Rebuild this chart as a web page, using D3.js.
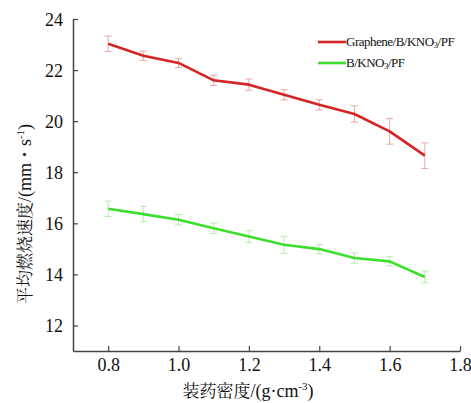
<!DOCTYPE html>
<html>
<head>
<meta charset="utf-8">
<script src="https://cdn.jsdelivr.net/npm/d3@7"></script>
<style>
  body { margin: 0; background: #fff; }
</style>
</head>
<body>
<div id="chart"></div>
<script>
// data
var density = [0.8, 0.9, 1.0, 1.1, 1.2, 1.3, 1.4, 1.5, 1.6, 1.7]
var grapheneRate = [23.03, 22.56, 22.28, 21.60, 21.43, 21.03, 20.64, 20.28, 19.60, 18.65]
var grapheneErr = [0.30, 0.18, 0.18, 0.20, 0.22, 0.20, 0.20, 0.32, 0.50, 0.50]
var plainRate = [16.57, 16.36, 16.14, 15.81, 15.48, 15.16, 14.99, 14.64, 14.51, 13.90]
var plainErr = [0.30, 0.30, 0.20, 0.20, 0.23, 0.33, 0.18, 0.20, 0.18, 0.23]
var xTicks = [0.8, 1.0, 1.2, 1.4, 1.6, 1.8]
var yTicks = [12, 14, 16, 18, 20, 22, 24]

var W = 471, H = 403
var margin = {top: 19, right: 11, bottom: 52, left: 73}
var serif = "'Liberation Serif', 'Times New Roman', Times, serif"
var cjk = "'Noto Serif CJK SC', 'Noto Sans CJK SC', serif"

var svg = d3.select("#chart").append("svg")
  .attr("width", W).attr("height", H)

var x = d3.scaleLinear().domain([0.7, 1.8]).range([margin.left, W - margin.right])
var y = d3.scaleLinear().domain([11, 24]).range([H - margin.bottom, margin.top])

let series = [
  {name: "Graphene/B/KNO", values: grapheneRate, err: grapheneErr, color: "#d42424", errColor: "#e8a8a8"},
  {name: "B/KNO", values: plainRate, err: plainErr, color: "#3ede2c", errColor: "#b4ecac"}
]

// axes, ticks pointing inward
var xAxis = svg.append("g")
  .attr("transform", "translate(0," + (H - margin.bottom) + ")")
  .call(d3.axisBottom(x).tickValues(xTicks).tickSize(-5).tickPadding(7).tickFormat(d3.format(".1f")).tickSizeOuter(0))
var yAxis = svg.append("g")
  .attr("transform", "translate(" + margin.left + ",0)")
  .call(d3.axisLeft(y).tickValues(yTicks).tickSize(-5).tickPadding(10).tickSizeOuter(0))

for (let a of [xAxis, yAxis]) {
  a.attr("font-family", null)
  a.selectAll("path.domain").attr("stroke", "#444").attr("stroke-width", 1.5)
  a.selectAll(".tick line").attr("stroke", "#444").attr("stroke-width", 1.2)
  a.selectAll("text").attr("fill", "#111")
    .style("font-family", serif).style("font-size", "18px")
}
yAxis.selectAll("text").attr("dy", "0.35em")

// error bars + lines
for (let s of series) {
  let g = svg.append("g")
  density.forEach(function(d, i) {
    let cx = x(d), y0 = y(s.values[i] - s.err[i]), y1 = y(s.values[i] + s.err[i])
    g.append("line").attr("x1", cx).attr("x2", cx).attr("y1", y0).attr("y2", y1)
      .attr("stroke", s.errColor).attr("stroke-width", 1)
    g.append("line").attr("x1", cx - 3.5).attr("x2", cx + 3.5).attr("y1", y0).attr("y2", y0)
      .attr("stroke", s.errColor).attr("stroke-width", 1)
    g.append("line").attr("x1", cx - 3.5).attr("x2", cx + 3.5).attr("y1", y1).attr("y2", y1)
      .attr("stroke", s.errColor).attr("stroke-width", 1)
  })
  g.append("path")
    .datum(density.map(function(d, i) { return [d, s.values[i]] }))
    .attr("fill", "none")
    .attr("stroke", s.color)
    .attr("stroke-width", 2.6)
    .attr("stroke-linejoin", "round")
    .attr("d", d3.line().x(function(d) { return x(d[0]) }).y(function(d) { return y(d[1]) }))
}

// legend
series.forEach(function(s, i) {
  let ly = 42 + i * 21
  svg.append("line").attr("x1", 318).attr("x2", 346).attr("y1", ly).attr("y2", ly)
    .attr("stroke", s.color).attr("stroke-width", 2.6)
  let t = svg.append("text").attr("x", 346).attr("y", ly + 4)
    .style("font-family", serif).style("font-size", "13px").attr("fill", "#111").attr("letter-spacing", -0.5)
  t.append("tspan").text(s.name)
  t.append("tspan").style("font-size", "9px").attr("dy", 2).text("3")
  t.append("tspan").attr("dy", -2).text("/PF")
})

// axis titles
let xt = svg.append("text")
  .attr("x", 248).attr("y", 397).attr("text-anchor", "middle")
  .style("font-family", serif).style("font-size", "18px").attr("fill", "#111")
xt.append("tspan").style("font-family", cjk).style("font-size", "17px").text("装药密度")
xt.append("tspan").text("/(g·cm")
xt.append("tspan").style("font-size", "11px").attr("dy", -7).text("-3")
xt.append("tspan").attr("dy", 7).text(")")

let yt = svg.append("text")
  .attr("transform", "translate(31,214) rotate(-90)")
  .attr("text-anchor", "middle")
  .style("font-family", serif).style("font-size", "18px").attr("fill", "#111")
yt.append("tspan").style("font-family", cjk).style("font-size", "17px").text("平均燃烧速度")
yt.append("tspan").text("/(mm")
yt.append("tspan").style("font-family", cjk).style("font-size", "17px").text("・")
yt.append("tspan").text("s")
yt.append("tspan").style("font-size", "11px").attr("dy", -7).text("-1")
yt.append("tspan").attr("dy", 7).text(")")
</script>
</body>
</html>
